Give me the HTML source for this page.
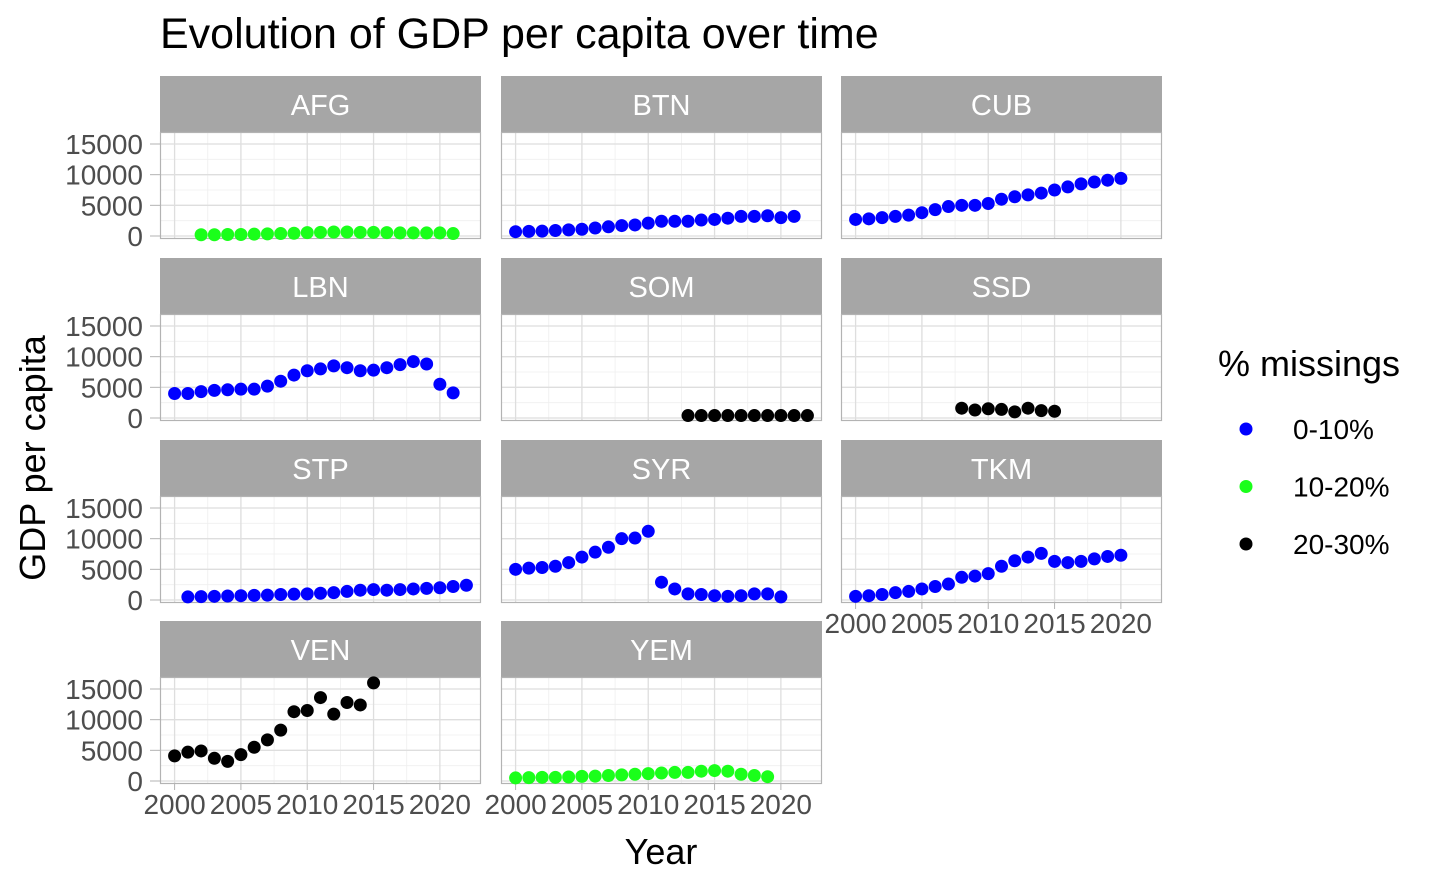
<!DOCTYPE html>
<html><head><meta charset="utf-8"><style>
body{margin:0;background:#fff;}
svg{display:block;font-family:"Liberation Sans",Arial,sans-serif;}
</style></head><body>
<svg id="c" width="1440" height="889"></svg>
<script>
const countries=["AFG","BTN","CUB","LBN","SOM","SSD","STP","SYR","TKM","VEN","YEM"];
const groups=["10-20%","0-10%","0-10%","0-10%","20-30%","20-30%","0-10%","0-10%","0-10%","20-30%","10-20%"];
const startYears=[2002,2000,2000,2000,2013,2008,2001,2000,2000,2000,2000];
const afgVals=[200,200,250,250,300,350,400,450,550,600,650,650,600,600,550,500,500,500,500,400];
const btnVals=[700,750,800,900,1000,1100,1300,1500,1700,1800,2100,2400,2400,2400,2600,2700,2900,3200,3200,3300,3000,3200];
const cubVals=[2700,2800,3000,3200,3400,3800,4300,4800,5000,5000,5300,6000,6400,6700,7000,7500,8000,8500,8800,9100,9400];
const lbnVals=[4000,4000,4300,4500,4600,4700,4700,5200,6000,7000,7700,8000,8500,8200,7700,7800,8200,8700,9200,8800,5500,4100];
const somVals=[400,400,400,400,400,400,400,400,400,400];
const ssdVals=[1600,1300,1500,1400,1000,1600,1200,1100];
const stpVals=[500,550,600,650,700,750,800,900,950,1000,1100,1200,1400,1600,1700,1600,1700,1800,1900,2000,2200,2400];
const syrVals=[5000,5200,5300,5500,6100,7000,7800,8600,10000,10100,11200,2900,1800,1000,900,700,600,700,1000,1000,500];
const tkmVals=[600,700,900,1200,1400,1800,2200,2600,3700,3900,4300,5500,6400,7000,7600,6300,6100,6300,6700,7100,7300];
const venVals=[4100,4700,4900,3700,3200,4300,5500,6700,8300,11300,11500,13600,10900,12800,12400,16000];
const yemVals=[500,550,600,600,650,750,800,900,1000,1100,1200,1300,1400,1400,1600,1700,1600,1100,900,700];
const series=[afgVals,btnVals,cubVals,lbnVals,somVals,ssdVals,stpVals,syrVals,tkmVals,venVals,yemVals];
const yTicks=[0,5000,10000,15000];
const yMinor=[2500,7500,12500];
const xTicks=[2000,2005,2010,2015,2020];
const xMinor=[2002.5,2007.5,2012.5,2017.5];
const legendLabels=["0-10%","10-20%","20-30%"];
const legendColors=["#0000ff","#1aff1a","#000000"];

const NS="http://www.w3.org/2000/svg";
const svg=document.getElementById('c');
function mk(tag,attrs,parent,text){const e=document.createElementNS(NS,tag);for(const k in attrs)e.setAttribute(k,attrs[k]);if(text!==undefined)e.textContent=text;(parent||svg).appendChild(e);return e;}
const colX=[160,501,841], PW=321, PH=107;
const rowStrip=[76,258,440,621];
function xs(col,yr){return colX[col]+(yr-1998.9)/(24.2)*PW;}
function ys(row,v){const top=rowStrip[row]+56;return top+PH-(v+489)/17446*PH;}
function color(g){return legendColors[legendLabels.indexOf(g)];}

let t=mk('text',{x:160,y:48,'font-size':43,fill:'#000'},svg,'Evolution of GDP per capita over time');


countries.forEach((c,i)=>{
  const row=Math.floor(i/3),col=i%3;
  const g=mk('g',{});
  
  
  const top=rowStrip[row]+56,x0=colX[col];
  const s=mk('rect',{x:x0,y:rowStrip[row],width:PW,height:56,fill:'#a6a6a6'},g);
  
  const st=mk('text',{x:x0+PW/2,y:rowStrip[row]+39,'font-size':29,fill:'#fff','text-anchor':'middle'},g,c);
  
  mk('rect',{x:x0,y:top,width:PW,height:PH,fill:'#fff'},g);
  yMinor.forEach(v=>mk('line',{x1:x0,x2:x0+PW,y1:ys(row,v),y2:ys(row,v),stroke:'#efefef','stroke-width':0.8},g));
  xMinor.forEach(v=>mk('line',{x1:xs(col,v),x2:xs(col,v),y1:top,y2:top+PH,stroke:'#efefef','stroke-width':0.8},g));
  yTicks.forEach(v=>{mk('line',{x1:x0,x2:x0+PW,y1:ys(row,v),y2:ys(row,v),stroke:'#dedede','stroke-width':1.3},g);
    if(col===0){const l=mk('text',{x:143,y:ys(row,v)+10,'font-size':28,fill:'#4d4d4d','text-anchor':'end'},g,v);
      
      mk('line',{x1:150,x2:160,y1:ys(row,v),y2:ys(row,v),stroke:'#b3b3b3'},g);}
  });
  xTicks.forEach(v=>{mk('line',{x1:xs(col,v),x2:xs(col,v),y1:top,y2:top+PH,stroke:'#dedede','stroke-width':1.3},g);
    const bottom=(row===3)||(row===2&&col===2);
    if(bottom){mk('line',{x1:xs(col,v),x2:xs(col,v),y1:top+PH,y2:top+PH+6,stroke:'#b3b3b3'},g);
      const l=mk('text',{x:xs(col,v),y:top+PH+30,'font-size':28,fill:'#4d4d4d','text-anchor':'middle'},g,v);
      }
  });
  mk('rect',{x:x0+0.5,y:top+0.5,width:PW-1,height:PH-1,fill:'none',stroke:'#b3b3b3','stroke-width':1.2},g);
  series[i].forEach((v,k)=>{
    const p=mk('circle',{cx:xs(col,startYears[i]+k),cy:ys(row,v),r:6.5,fill:color(groups[i])},g);
    
    
  });
});
t=mk('text',{x:661,y:864,'font-size':36,fill:'#000','text-anchor':'middle'},svg,'Year');

t=mk('text',{x:0,y:0,'font-size':36,fill:'#000','text-anchor':'middle',transform:'translate(45,458) rotate(-90)'},svg,'GDP per capita');

t=mk('text',{x:1218,y:376,'font-size':36,fill:'#000'},svg,'% missings');

legendLabels.forEach((l,i)=>{
  const y=429+i*57.5;
  const d=mk('circle',{cx:1246,cy:y,r:6.5,fill:legendColors[i]});
  
  const tx=mk('text',{x:1293,y:y+10,'font-size':28,fill:'#000'},svg,l);
  
});
</script>
</body></html>
